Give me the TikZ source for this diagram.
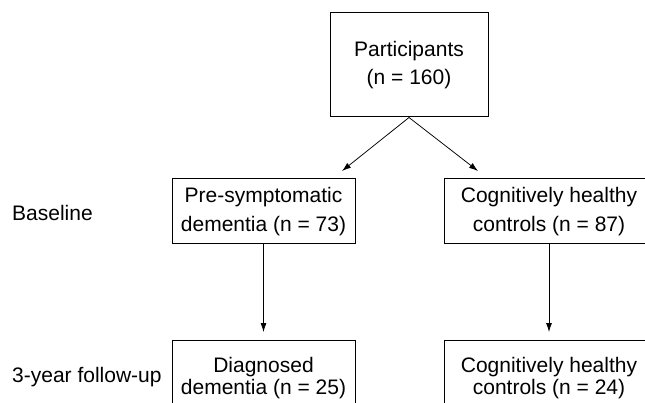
\documentclass[tikz,border=0pt]{standalone}
\usepackage{fontspec}
\setmainfont{Liberation Sans}
\usepackage{tikz}
\usetikzlibrary{
    arrows.meta,
    positioning
}

\tikzset{
    box/.style={draw, line width=1pt, align=center, inner sep=0pt,
        font=\fontsize{21}{28.5}\selectfont},
    lowbox/.style={box, font=\fontsize{21}{22}\selectfont},
    stagelabel/.style={anchor=west, inner sep=0pt, font=\fontsize{21}{25}\selectfont},
    flow/.style={line width=0.75pt, -{Latex[length=9pt,width=6pt]}}
}

\begin{document}
\begin{tikzpicture}[x=1pt,y=-1pt]
    \useasboundingbox (0,0) rectangle (645,403);

    \node[box, minimum width=158pt, minimum height=104pt] (part) at (409,65) {Participants\\(n = 160)};

    \node[box, minimum width=183pt, minimum height=65pt] (presym) at (263.5,211.5) {Pre-symptomatic\\dementia (n = 73)};
    \node[box, minimum width=210pt, minimum height=65pt] (hcbase) at (549,211.5) {Cognitively healthy\\controls (n = 87)};

    % bottom boxes run off the lower edge
    \node[lowbox, minimum width=183pt, minimum height=75pt] (diag) at (263.5,378) {Diagnosed\\dementia (n = 25)};
    \node[lowbox, minimum width=210pt, minimum height=75pt] (hcfollow) at (549,378) {Cognitively healthy\\controls (n = 24)};

    \node[stagelabel] (baseline) at (12,213) {Baseline};
    \node[stagelabel] (followup) at (12,377) {3-year follow-up};

    \coordinate (splitL) at (342,171);
    \coordinate (splitR) at (478,171);

    \draw[flow] (part.south) -- (splitL);
    \draw[flow] (part.south) -- (splitR);
    \draw[flow, shorten >=8pt] (presym.south) -- (diag.north);
    \draw[flow, shorten >=8pt] (hcbase.south) -- (hcfollow.north);
\end{tikzpicture}
\end{document}
